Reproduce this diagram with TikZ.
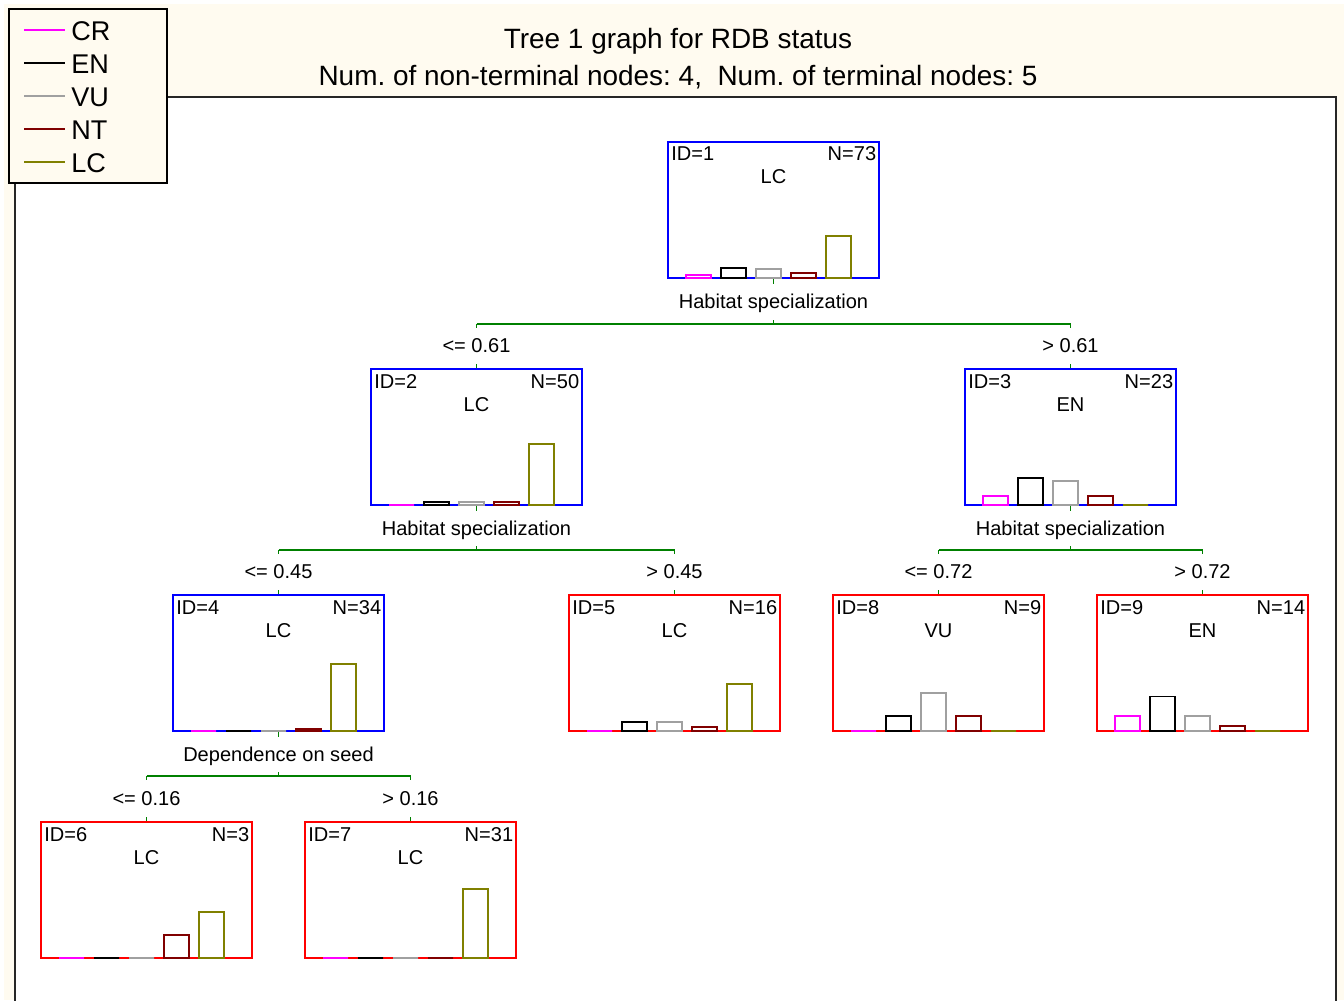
\documentclass[tikz,border=0pt]{standalone}
\usepackage{fontspec}
\setmainfont{Liberation Sans}
\usetikzlibrary{calc}
\frenchspacing

\definecolor{cream}{RGB}{255,251,240}
\definecolor{crcol}{RGB}{255,0,255}
\definecolor{encol}{RGB}{0,0,0}
\definecolor{vucol}{RGB}{160,160,160}
\definecolor{ntcol}{RGB}{128,0,0}
\definecolor{lccol}{RGB}{128,128,0}
\definecolor{treegreen}{RGB}{0,128,0}
\definecolor{inner}{RGB}{0,0,255}
\definecolor{leaf}{RGB}{255,0,0}

\newcommand{\boxfont}{\fontsize{11.4}{13.7}\selectfont}
\newcommand{\legfont}{\fontsize{15.4}{18}\selectfont}
\newcommand{\titlefont}{\fontsize{15.9}{19}\selectfont}

\begin{document}
\begin{tikzpicture}[x=0.02cm, y=-0.02cm,
		treebox/.style={draw, line width=1.1pt, minimum width=4.22cm, minimum height=2.72cm, inner sep=0pt},
		bar/.style={line width=1.1pt},
		edge/.style={draw=treegreen, line width=1.1pt},
		txt/.style={inner sep=0pt, font=\boxfont},
		legline/.style={line width=1.1pt}]
		\useasboundingbox (0,0) rectangle (1344,1000);

		% page and plot area
		\fill [white] (0,0) rectangle (1344,1000);
		\fill [cream] (4,4) rectangle (1344,1000);
		\fill [white] (15,97) rectangle (1336,1000);
		\draw [black!85, line width=1.1pt] (168,97) -- (1336,97) -- (1336,1001);
		\draw [black!85, line width=1.1pt] (15,184) -- (15,1001);

		% title
		\node [inner sep=0pt, font=\titlefont, anchor=base] (t1) at (678,49) {Tree 1 graph for RDB status};
		\node [inner sep=0pt, font=\titlefont, anchor=base] (t2) at (678,86) {Num. of non-terminal nodes: 4,\ \ Num. of terminal nodes: 5};

		% legend
		\draw [black, fill=cream, line width=1.7pt] (9,9) rectangle (167,183);
		\foreach \lab/\lc [count=\i from 0] in {CR/crcol, EN/encol, VU/vucol, NT/ntcol, LC/lccol} {
			\draw [legline, draw=\lc] (24,30+33*\i) -- (65,30+33*\i);
			\node [inner sep=0pt, font=\legfont, anchor=west] (leg\lab) at (71,31.5+33*\i) {\lab};
		}

		% tree nodes: id / centre x / top y / N / class / colour / counts CR EN VU NT LC
		\foreach \id/\cx/\ty/\nn/\cls/\col/\va/\vb/\vc/\vd/\ve in {
				1/773.5/142/73/LC/inner/3/11/10/5/44,
				2/476.5/369/50/LC/inner/0/2/2/2/44,
				3/1070.5/369/23/EN/inner/3/9/8/3/0,
				4/278.5/595/34/LC/inner/0/0/0/1/33,
				5/674.5/595/16/LC/leaf/0/2/2/1/11,
				8/938.5/595/9/VU/leaf/0/2/5/2/0,
				9/1202.5/595/14/EN/leaf/3/7/3/1/0,
				6/146.5/822/3/LC/leaf/0/0/0/1/2,
				7/410.5/822/31/LC/leaf/0/0/0/0/31} {
			\node [treebox, draw=\col] (n\id) at (\cx,\ty+68) {};
			\node [txt, anchor=base west] (id\id) at (\cx-102.5,\ty+19) {ID=\id};
			\node [txt, anchor=base east] (nn\id) at (\cx+103,\ty+19) {N=\nn};
			\node [txt, anchor=base] (cl\id) at (\cx,\ty+42) {\cls};
			% class bars
			\foreach \cnt/\bc [count=\k from 0] in {\va/crcol, \vb/encol, \vc/vucol, \vd/ntcol, \ve/lccol} {
				\pgfmathsetmacro\h{69*\cnt/\nn}
				\draw [bar, draw=\bc] (\cx-87.5+35*\k,\ty+136) rectangle ++(25,-\h);
			}
		}

		% splits: parent / left / right / joint y / variable / threshold
		\foreach \p/\l/\r/\jy/\var/\thr in {
				1/2/3/324/Habitat specialization/0.61,
				2/4/5/550/Habitat specialization/0.45,
				3/8/9/550/Habitat specialization/0.72,
				4/6/7/776/Dependence on seed/0.16} {
			\draw [edge] (n\p.south) -- ++(0,5);
			\node [txt, anchor=base] (s\p) at ($(n\p.south)+(0,30)$) {\var};
			\coordinate (j\p) at (n\p.south |- 0,\jy);
			\draw [edge] (j\p) -- ++(0,-4);
			\draw [edge] (n\l.north |- j\p) -- (n\r.north |- j\p);
			\draw [edge] (n\l.north |- j\p) -- ++(0,4);
			\draw [edge] (n\r.north |- j\p) -- ++(0,4);
			\node [txt, anchor=base] (bl\l) at ($(n\l.north)+(0,-16)$) {<= \thr};
			\node [txt, anchor=base] (bl\r) at ($(n\r.north)+(0,-16)$) {> \thr};
			\draw [edge] (n\l.north) -- ++(0,-4);
			\draw [edge] (n\r.north) -- ++(0,-4);
		}
	\end{tikzpicture}
\end{document}
